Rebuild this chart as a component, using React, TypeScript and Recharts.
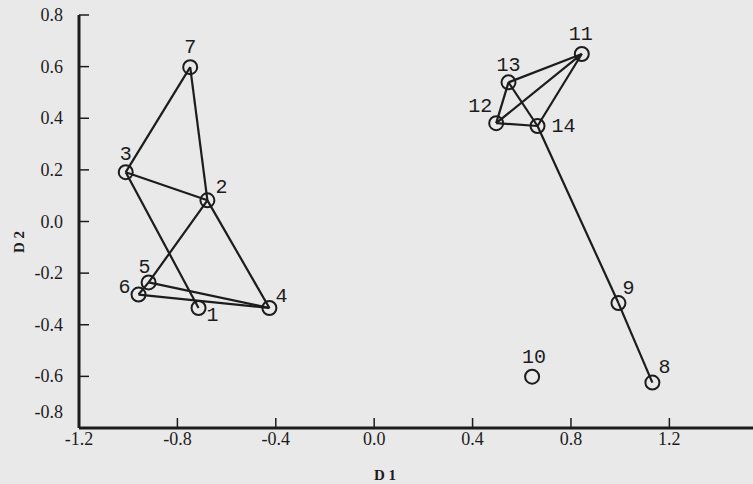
import { ScatterChart, Scatter, XAxis, YAxis, ReferenceLine, Label } from 'recharts';

const pointIds = [1, 2, 3, 4, 5, 6, 7, 8, 9, 10, 11, 12, 13, 14];
const d1 = [-0.714, -0.678, -1.01, -0.426, -0.917, -0.958, -0.748, 1.131, 0.993, 0.642, 0.844, 0.496, 0.546, 0.664];
const d2 = [-0.335, 0.082, 0.191, -0.335, -0.236, -0.283, 0.598, -0.624, -0.316, -0.601, 0.649, 0.381, 0.539, 0.37];
const links = [
  [7, 3], [7, 2], [3, 2], [3, 1], [2, 4], [2, 5], [5, 4], [6, 4], [6, 5],
  [11, 13], [11, 12], [11, 14], [13, 12], [13, 14], [12, 14], [14, 9], [9, 8],
];
const xTicks = [-1.2, -0.8, -0.4, 0, 0.4, 0.8, 1.2];
const yTicks = [-0.8, -0.6, -0.4, -0.2, 0, 0.2, 0.4, 0.6, 0.8];

const points = pointIds.map((id, i) => ({ id, x: d1[i], y: d2[i] }));

// where each number sits relative to its circle (px)
const labelOffset: Record<number, [number, number]> = {
  1: [14, 8], 2: [14, -13], 3: [0, -18], 4: [12, -11], 5: [-4, -15], 6: [-14, -7], 7: [0, -20],
  8: [12, -15], 9: [10, -15], 10: [2, -19], 11: [-1, -19], 12: [-16, -17], 13: [0, -17], 14: [26, 1],
};

const ink = '#1c1c1c';
const serif = '"Liberation Serif", "Times New Roman", serif';

const PointShape = (props: any) => {
  const { cx, cy, payload } = props;
  const [dx, dy] = labelOffset[payload.id] || [0, -18];
  return (
    <g>
      <circle cx={cx} cy={cy} r={7} fill="none" stroke={ink} strokeWidth={2} />
      <text
        x={cx + dx}
        y={cy + dy}
        textAnchor="middle"
        dominantBaseline="central"
        fontFamily='"Liberation Mono", "DejaVu Sans Mono", monospace'
        fontSize={20}
        fill={ink}
      >
        {payload.id}
      </text>
    </g>
  );
};

const YTick = (props: any) => {
  const { x, y, payload } = props;
  const shift = payload.value === -0.8 ? -16 : 0;
  return (
    <text x={x} y={y + shift} textAnchor="end" dominantBaseline="central" fontFamily={serif} fontSize={18} fill={ink}>
      {payload.value.toFixed(1)}
    </text>
  );
};

export default function App() {
  return (
    <div style={{ position: 'absolute', left: 0, top: 0, width: 753, height: 484, background: '#e9e9e9' }}>
      <ScatterChart width={753} height={484} margin={{ top: 15, right: 0, bottom: 0, left: 0 }}>
        <XAxis
          type="number"
          dataKey="x"
          domain={[-1.2, 1.54]}
          ticks={xTicks}
          allowDataOverflow
          height={56}
          tickSize={-10}
          tickMargin={14}
          tickFormatter={(v: number) => v.toFixed(1)}
          tick={{ fontFamily: serif, fontSize: 18, fill: ink }}
          axisLine={{ stroke: ink, strokeWidth: 3 }}
          tickLine={{ stroke: ink, strokeWidth: 1.5 }}
        >
          <Label value="D 1" position="insideBottom" offset={4} dx={-31} style={{ fontFamily: serif, fontSize: 15, fontWeight: 'bold', fill: ink }} />
        </XAxis>
        <YAxis
          type="number"
          dataKey="y"
          domain={[-0.8, 0.8]}
          ticks={yTicks}
          allowDataOverflow
          width={79}
          tickSize={-10}
          tickMargin={26}
          tick={<YTick />}
          axisLine={{ stroke: ink, strokeWidth: 3 }}
          tickLine={{ stroke: ink, strokeWidth: 1.5 }}
        >
          <Label
            content={() => (
              <text x={19} y={242} transform="rotate(-90 19 242)" textAnchor="middle" dominantBaseline="central"
                fontFamily={serif} fontSize={15} fontWeight="bold" fill={ink}>
                D 2
              </text>
            )}
          />
        </YAxis>
        {links.map(([a, b], i) => (
          <ReferenceLine
            key={i}
            segment={[{ x: d1[a - 1], y: d2[a - 1] }, { x: d1[b - 1], y: d2[b - 1] }]}
            stroke={ink}
            strokeWidth={2.2}
          />
        ))}
        <Scatter data={points} shape={<PointShape />} isAnimationActive={false} />
      </ScatterChart>
    </div>
  );
}
